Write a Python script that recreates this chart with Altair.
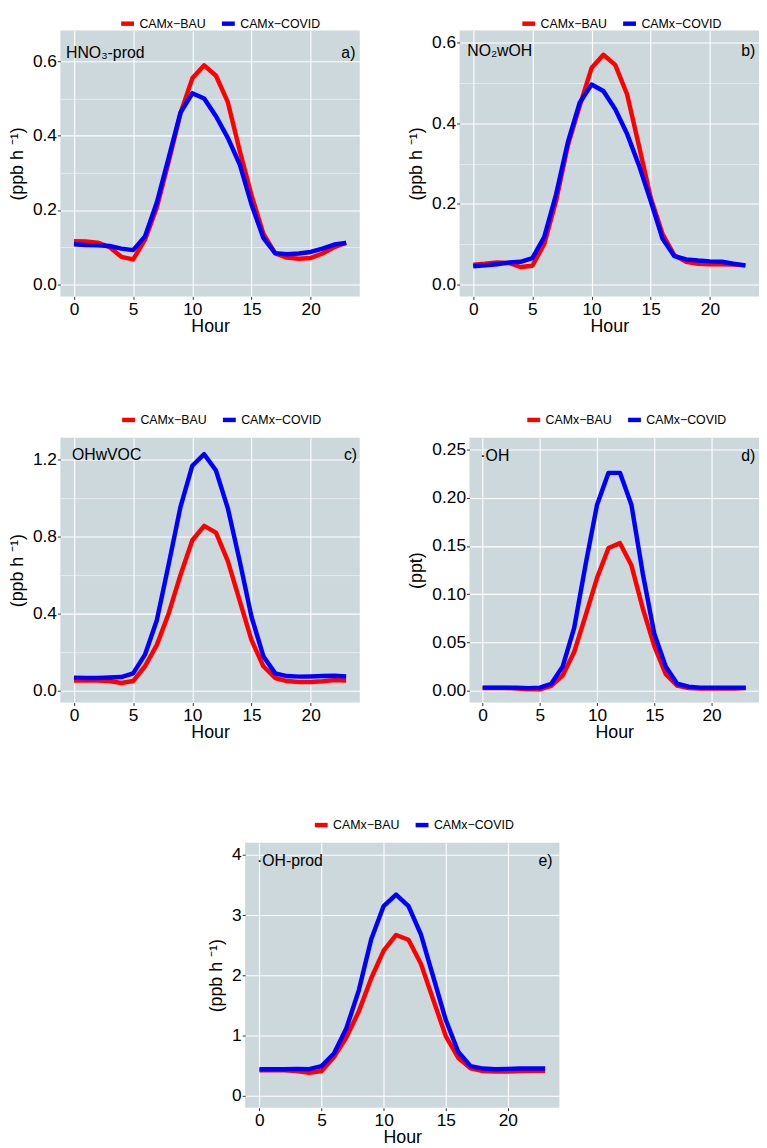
import altair as alt
import pandas as pd

hours = list(range(24))
series = ["CAMx−BAU", "CAMx−COVID"]
colors = ["#FF0000", "#0000FF"]

hno3_bau = [0.116, 0.115, 0.112, 0.100, 0.074, 0.067, 0.120, 0.207, 0.330, 0.460, 0.554, 0.589,
            0.561, 0.490, 0.360, 0.240, 0.136, 0.083, 0.072, 0.069, 0.071, 0.083, 0.100, 0.112]
hno3_covid = [0.108, 0.106, 0.105, 0.103, 0.096, 0.092, 0.129, 0.220, 0.340, 0.462, 0.514, 0.500,
              0.452, 0.394, 0.323, 0.215, 0.125, 0.084, 0.081, 0.083, 0.087, 0.096, 0.107, 0.111]
no2_bau = [0.049, 0.051, 0.054, 0.053, 0.043, 0.046, 0.100, 0.207, 0.345, 0.443, 0.537, 0.570,
           0.545, 0.472, 0.345, 0.215, 0.125, 0.072, 0.056, 0.051, 0.050, 0.050, 0.049, 0.047]
no2_covid = [0.045, 0.047, 0.050, 0.054, 0.056, 0.065, 0.117, 0.223, 0.353, 0.451, 0.496, 0.480,
             0.435, 0.374, 0.296, 0.207, 0.113, 0.070, 0.062, 0.059, 0.057, 0.056, 0.051, 0.047]
ohvoc_bau = [0.052, 0.052, 0.052, 0.049, 0.039, 0.049, 0.126, 0.237, 0.400, 0.600, 0.780, 0.855,
             0.820, 0.672, 0.467, 0.262, 0.126, 0.065, 0.049, 0.044, 0.044, 0.048, 0.054, 0.052]
ohvoc_covid = [0.066, 0.065, 0.065, 0.068, 0.070, 0.089, 0.186, 0.365, 0.655, 0.954, 1.167, 1.227,
               1.142, 0.946, 0.673, 0.383, 0.178, 0.089, 0.075, 0.072, 0.073, 0.075, 0.077, 0.073]
oh_bau = [0.0027, 0.0027, 0.0027, 0.0020, 0.0013, 0.0013, 0.0047, 0.0157, 0.040, 0.078, 0.117, 0.148,
          0.153, 0.130, 0.085, 0.046, 0.017, 0.005, 0.0025, 0.002, 0.002, 0.002, 0.002, 0.0025]
oh_covid = [0.003, 0.003, 0.003, 0.003, 0.0025, 0.003, 0.007, 0.025, 0.065, 0.131, 0.193, 0.226,
            0.226, 0.193, 0.121, 0.059, 0.025, 0.007, 0.004, 0.003, 0.003, 0.003, 0.003, 0.003]
ohprod_bau = [0.42, 0.42, 0.42, 0.41, 0.38, 0.41, 0.64, 0.97, 1.40, 1.95, 2.41, 2.67,
              2.59, 2.19, 1.59, 0.99, 0.63, 0.455, 0.41, 0.40, 0.40, 0.41, 0.415, 0.415]
ohprod_covid = [0.44, 0.44, 0.44, 0.445, 0.44, 0.49, 0.70, 1.12, 1.75, 2.60, 3.15, 3.34,
                3.15, 2.68, 1.97, 1.26, 0.73, 0.49, 0.45, 0.44, 0.445, 0.45, 0.45, 0.45]

# panel annotation labels: (text, hour, value)
labels_a = [("HNO₃-prod", -0.67, 0.622), ("a)", 23.78, 0.622)]
labels_b = [("NO₂wOH", -0.5, 0.58), ("b)", 23.84, 0.58)]
labels_c = [("OHwVOC", -0.17, 1.22), ("c)", 23.92, 1.22)]
labels_d = [("·OH", -0.2, 0.2435), ("d)", 23.83, 0.2435)]
labels_e = [("·OH-prod", -0.2, 3.9), ("e)", 23.6, 3.9)]

x_ticks = [0, 2.5, 5, 7.5, 10, 12.5, 15, 17.5, 20, 22.5]
BG = "#CCD8DC"


def panel(bau, covid, labels, ytitle, ydomain, ystep, yfmt, w, h, lx, ly):
    df = pd.DataFrame({
        "Hour": hours * 2,
        "value": bau + covid,
        "series": [series[0]] * 24 + [series[1]] * 24,
    })
    n = int(round(ydomain[1] / (ystep / 2)))
    yvals = [round(k * ystep / 2, 6) for k in range(n + 1)]
    ytest = f"abs(datum.value/{ystep} - round(datum.value/{ystep})) < 0.001"
    xtest = "datum.value % 5 === 0"
    xaxis = alt.Axis(
        values=x_ticks, title="Hour", format="d",
        labelExpr=f"{xtest} ? datum.label : ''",
        gridWidth={"condition": {"test": xtest, "value": 1.1}, "value": 0.5},
        tickOpacity={"condition": {"test": xtest, "value": 1}, "value": 0},
    )
    yaxis = alt.Axis(
        values=yvals, title=ytitle, format=yfmt,
        labelExpr=f"{ytest} ? datum.label : ''",
        gridWidth={"condition": {"test": ytest, "value": 1.1}, "value": 0.5},
        tickOpacity={"condition": {"test": ytest, "value": 1}, "value": 0},
    )
    xs = alt.Scale(domain=[-1.15, 24.15], nice=False, zero=False)
    ys = alt.Scale(domain=ydomain, nice=False, zero=False)
    lines = alt.Chart(df).mark_line(strokeWidth=4.5, strokeJoin="round").encode(
        x=alt.X("Hour:Q", scale=xs, axis=xaxis),
        y=alt.Y("value:Q", scale=ys, axis=yaxis),
        color=alt.Color(
            "series:N",
            scale=alt.Scale(domain=series, range=colors),
            legend=alt.Legend(
                title=None, orient="none", legendX=lx, legendY=ly,
                direction="horizontal", symbolType="stroke", gridAlign="none",
                symbolStrokeWidth=4.5, symbolSize=169, labelFontSize=12.5,
                labelColor="black", columnPadding=6, labelOffset=3, padding=0,
            ),
        ),
        order=alt.Order("series:N"),
    )
    tdf = pd.DataFrame({
        "t": [labels[0][0], labels[1][0]],
        "Hour": [labels[0][1], labels[1][1]],
        "value": [labels[0][2], labels[1][2]],
    })
    left = alt.Chart(tdf.iloc[[0]]).mark_text(
        align="left", baseline="middle", fontSize=16, color="black"
    ).encode(x="Hour:Q", y="value:Q", text="t:N")
    right = alt.Chart(tdf.iloc[[1]]).mark_text(
        align="right", baseline="middle", fontSize=16, color="black"
    ).encode(x="Hour:Q", y="value:Q", text="t:N")
    return alt.layer(lines, left, right).properties(width=w, height=h)


ppb = "(ppb h ⁻¹)"
pa = panel(hno3_bau, hno3_covid, labels_a, ppb, [-0.0325, 0.6825], 0.2, ".1f", 303, 269, 59, -16)
pb = panel(no2_bau, no2_covid, labels_b, ppb, [-0.03, 0.63], 0.2, ".1f", 303, 269, 61, -16)
pc = panel(ohvoc_bau, ohvoc_covid, labels_c, ppb, [-0.0625, 1.3125], 0.4, ".1f", 303, 268, 60, -27)
pd_ = panel(oh_bau, oh_covid, labels_d, "(ppt)", [-0.0125, 0.2625], 0.05, ".2f", 293, 268, 56, -27)
pe = panel(ohprod_bau, ohprod_covid, labels_e, ppb, [-0.2, 4.2], 1, "d", 318, 268, 68, -27)

spacer = alt.Chart(pd.DataFrame({"v": [0]})).mark_point(opacity=0).encode(
    x=alt.X("v:Q", axis=None), y=alt.Y("v:Q", axis=None)
).properties(width=177, height=268, view=alt.ViewBackground(fillOpacity=0, strokeWidth=0))

row1 = alt.hconcat(pa, pb, spacing=101, bounds="flush").resolve_scale(color="independent")
row2 = alt.hconcat(pc, pd_, spacing=111, bounds="flush").resolve_scale(color="independent")
row3 = alt.hconcat(spacer, pe, spacing=10, bounds="flush").resolve_scale(color="independent")

top = alt.vconcat(row1, row2, spacing=76).resolve_scale(color="independent")

chart = alt.vconcat(top, row3, spacing=75).resolve_scale(
    color="independent"
).properties(padding=0).configure(
    font="Liberation Sans"
).configure_view(
    fill=BG, strokeWidth=0
).configure_axis(
    domain=False, gridColor="white", gridOpacity=1, tickColor="#333333", tickSize=3,
    labelFontSize=17.5, labelColor="black", labelPadding=1,
    titleFontSize=18, titleFontWeight="normal", titleColor="black",
).configure_axisX(titlePadding=0).configure_axisY(titlePadding=6)

chart.save("out.html", embed_options={"renderer": "svg", "actions": False})
